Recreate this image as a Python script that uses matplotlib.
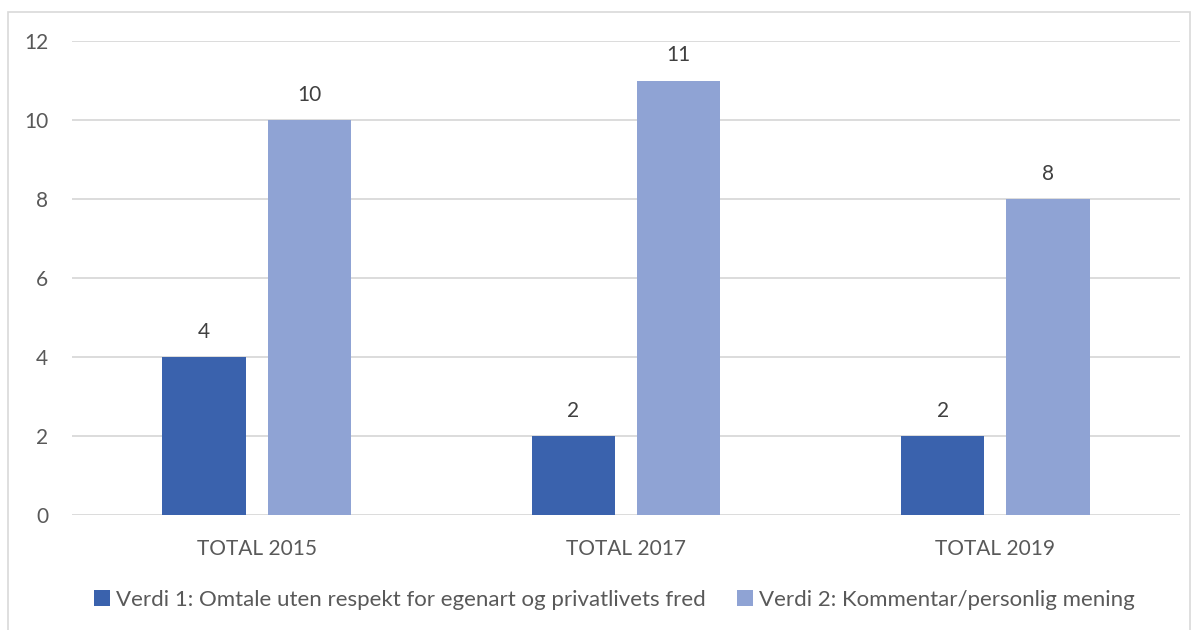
import numpy as np
import matplotlib.pyplot as plt
from matplotlib.patches import Rectangle

categories = ["TOTAL 2015", "TOTAL 2017", "TOTAL 2019"]
verdi1 = [4, 2, 2]
verdi2 = [10, 11, 8]
series_names = [
    "Verdi 1: Omtale uten respekt for egenart og privatlivets fred",
    "Verdi 2: Kommentar/personlig mening",
]

dark = "#3A62AD"
light = "#8FA3D4"
txt = "#595959"
grid = "#D9D9D9"

plt.rcParams["font.family"] = ["Lato", "DejaVu Sans"]

fig = plt.figure(figsize=(11.98, 6.3), dpi=100)
ax = fig.add_axes([72 / 1198, 1 - 515 / 630, (1180 - 72) / 1198, (515 - 41) / 630])

x = np.arange(len(categories))
w = 0.225
b1 = ax.bar(x - 0.1425, verdi1, w, color=dark, label=series_names[0], zorder=3)
b2 = ax.bar(x + 0.1425, verdi2, w, color=light, label=series_names[1], zorder=3)

for bars in (b1, b2):
    for r in bars:
        ax.annotate(f"{r.get_height():g}", (r.get_x() + r.get_width() / 2, r.get_height()),
                    xytext=(0, 11), textcoords="offset points", ha="center", va="bottom",
                    fontsize=15, color="#404040")

ax.set_xlim(-0.5, 2.5)
ax.set_ylim(0, 12)
ax.set_yticks(range(0, 13, 2))
ax.set_xticks(x)
ax.set_xticklabels(categories)
ax.yaxis.grid(True, color=grid, linewidth=1.3, zorder=0)
for s in ax.spines.values():
    s.set_visible(False)
ax.tick_params(axis="both", length=0, labelsize=15, colors=txt)
ax.tick_params(axis="x", pad=17)
ax.tick_params(axis="y", pad=17)

fig.patches.append(Rectangle((8 / 1198, -0.05), (1190 - 8) / 1198, 1.05 - 12 / 630,
                             transform=fig.transFigure, fill=False, edgecolor="#D9D9D9",
                             linewidth=1.2))

fig.legend(loc="center", bbox_to_anchor=(0.513, 1 - 600 / 630), ncol=2, frameon=False,
           fontsize=16, labelcolor=txt, handlelength=0.7, handleheight=0.7,
           handletextpad=0.3, columnspacing=1.4)

fig.savefig("out.png", dpi=100)
